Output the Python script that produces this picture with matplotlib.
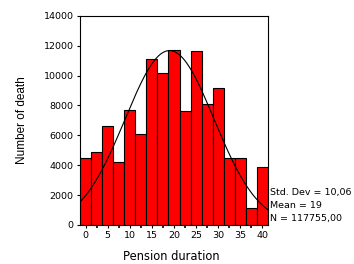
import numpy as np
import matplotlib
matplotlib.use("Agg")
import matplotlib.pyplot as plt

# Histogram data (bin centres, counts)
bin_centres = [0, 2.5, 5, 7.5, 10, 12.5, 15, 17.5, 20, 22.5, 25, 27.5, 30, 32.5, 35, 37.5, 40]
counts = [4500, 4900, 6600, 4200, 7700, 6100, 11100, 10150, 11700, 7600,
          11650, 8100, 9150, 4500, 4500, 1100, 3900]
bin_width = 2.5

# Summary statistics shown beside the plot
mean = 19
std_dev = 10.06
n_total = 117755

x_ticks = [0, 5, 10, 15, 20, 25, 30, 35, 40]
y_ticks = [0, 2000, 4000, 6000, 8000, 10000, 12000, 14000]

plt.rcParams['font.family'] = ['DejaVu Sans']

fig = plt.figure(figsize=(3.54, 2.64), dpi=100)
ax = fig.add_axes([0.226, 0.148, 0.531, 0.792])

ax.bar(bin_centres, counts, width=bin_width, color='#ff0000',
       edgecolor='black', linewidth=0.8)

# Fitted normal curve scaled to counts
xs = np.linspace(bin_centres[0] - bin_width / 2, bin_centres[-1] + bin_width / 2, 200)
scale = n_total * bin_width / (std_dev * np.sqrt(2 * np.pi))
ax.plot(xs, scale * np.exp(-0.5 * ((xs - mean) / std_dev) ** 2),
        color='black', linewidth=0.8)

ax.set_xlim(bin_centres[0] - bin_width / 2, bin_centres[-1] + bin_width / 2)
ax.set_ylim(0, 14000)
ax.set_xticks(x_ticks)
ax.set_xticks([c for c in bin_centres if c not in x_ticks], minor=True)
ax.set_yticks(y_ticks)
ax.tick_params(axis='both', labelsize=6.8, length=2.5, width=0.8, pad=2)
ax.tick_params(axis='x', which='minor', length=2.5, width=1.2)
for s in ax.spines.values():
    s.set_linewidth(0.8)

fig.text(0.062, 0.545, 'Number of death', rotation=90, ha='center', va='center',
         fontsize=8.5, family=['Liberation Sans Narrow', 'Liberation Sans'])
fig.text(0.485, 0.027, 'Pension duration', ha='center', va='center', fontsize=8.3)

stats = ['Std. Dev = ' + f'{std_dev:.2f}'.replace('.', ','),
         f'Mean = {mean}',
         'N = ' + f'{n_total:.2f}'.replace('.', ',')]
for i, line in enumerate(stats):
    fig.text(0.762, 1 - (193 + 12.5 * i) / 264, line, ha='left', va='center', fontsize=6.8)

fig.savefig('out.png', dpi=100)
